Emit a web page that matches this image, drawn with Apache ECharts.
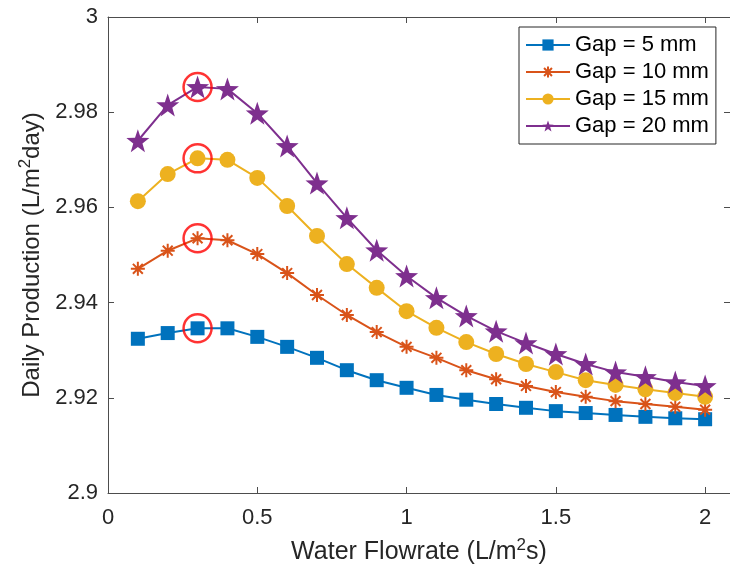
<!DOCTYPE html>
<html>
<head>
<meta charset="utf-8">
<script src="https://cdn.jsdelivr.net/npm/echarts@6/dist/echarts.min.js"></script>
<style>
  html, body { margin: 0; padding: 0; background: #fff; }
  #main { width: 730px; height: 575px; }
</style>
</head>
<body>
<div id="main"></div>
<script>
var flow = [0.1, 0.2, 0.3, 0.4, 0.5, 0.6, 0.7, 0.8, 0.9, 1.0,
            1.1, 1.2, 1.3, 1.4, 1.5, 1.6, 1.7, 1.8, 1.9, 2.0];
var gap5  = [2.9324, 2.9336, 2.9346, 2.9346, 2.9328, 2.9307, 2.9284, 2.9258, 2.9237, 2.9221,
             2.9206, 2.9196, 2.9187, 2.9179, 2.9172, 2.9168, 2.9164, 2.9160, 2.9157, 2.9155];
var gap10 = [2.9471, 2.9509, 2.9535, 2.9531, 2.9502, 2.9462, 2.9416, 2.9374, 2.9338, 2.9307,
             2.9284, 2.9258, 2.9239, 2.9225, 2.9212, 2.9202, 2.9193, 2.9187, 2.9181, 2.9175];
var gap15 = [2.9613, 2.9670, 2.9703, 2.9700, 2.9662, 2.9603, 2.9540, 2.9481, 2.9431, 2.9382,
             2.9347, 2.9317, 2.9292, 2.9271, 2.9254, 2.9237, 2.9227, 2.9218, 2.9210, 2.9202];
var gap20 = [2.9740, 2.9815, 2.9853, 2.9849, 2.9798, 2.9729, 2.9651, 2.9578, 2.9510, 2.9456,
             2.9410, 2.9372, 2.9340, 2.9315, 2.9292, 2.9271, 2.9254, 2.9244, 2.9233, 2.9225];
var names = ['Gap = 5 mm', 'Gap = 10 mm', 'Gap = 15 mm', 'Gap = 20 mm'];
var peakIndex = 2; // x = 0.3 is circled on every curve

var colors = ['#0072BD', '#D95319', '#EDB120', '#7E2F8E'];
var asterisk = 'path://M0,-10L0,10M-10,0L10,0M-7.07,-7.07L7.07,7.07M-7.07,7.07L7.07,-7.07';
var star = 'path://M0,-10L2.35,-3.24L9.51,-3.09L3.80,1.24L5.88,8.09L0,4L-5.88,8.09L-3.80,1.24L-9.51,-3.09L-2.35,-3.24Z';

function pairs(ys) {
    return flow.map(function (x, i) { return [x, ys[i]]; });
}

var allSeries = [gap5, gap10, gap15, gap20];
var symbols = ['rect', asterisk, 'circle', star];
var sizes = [14, 14, 16, 23];

var series = allSeries.map(function (ys, k) {
    return {
        name: names[k],
        type: 'line',
        data: pairs(ys),
        symbol: symbols[k],
        symbolSize: sizes[k],
        showAllSymbol: true,
        lineStyle: { color: colors[k], width: 2 },
        itemStyle: {
            color: colors[k],
            borderColor: colors[k],
            borderWidth: k === 1 ? 2 : 0
        },
        emphasis: { disabled: true },
        z: 2 + k
    };
});

series.push({
    name: 'peak',
    type: 'scatter',
    data: allSeries.map(function (ys) { return [flow[peakIndex], ys[peakIndex]]; }),
    symbol: 'circle',
    symbolSize: 28,
    itemStyle: { color: 'rgba(0,0,0,0)', borderColor: '#FF0000', borderWidth: 2.5 },
    emphasis: { disabled: true },
    z: 10
});

var axisColor = '#4d4d4d';
var textColor = '#262626';
var font = 'Liberation Sans, Arial, sans-serif';

var chart = echarts.init(document.getElementById('main'));
chart.setOption({
    animation: false,
    textStyle: { fontFamily: font },
    grid: { left: 108, top: 17, right: 0, bottom: 82 },
    legend: {
        data: names,
        orient: 'vertical',
        left: 519,
        top: 27,
        itemWidth: 44,
        itemHeight: 14,
        itemGap: 5,
        padding: [7, 7, 7, 6],
        backgroundColor: '#fff',
        borderColor: '#262626',
        borderWidth: 1,
        textStyle: { fontSize: 22, color: '#000', fontFamily: font }
    },
    xAxis: [{
        type: 'value',
        min: 0, max: 2.0833, interval: 0.5,
        name: 'Water Flowrate (L/m{sup|2}s)',
        nameLocation: 'middle',
        nameGap: 44,
        nameTextStyle: {
            fontSize: 25, color: textColor, fontFamily: font,
            rich: { sup: { fontSize: 17, padding: [0, 0, 14, 0], color: textColor, fontFamily: font } }
        },
        axisLine: { show: true, lineStyle: { color: axisColor, width: 1 } },
        axisTick: { show: true, inside: true, length: 6, lineStyle: { color: axisColor } },
        axisLabel: { fontSize: 22, color: textColor, margin: 14, showMaxLabel: false },
        splitLine: { show: false }
    }, {
        type: 'value',
        position: 'top',
        min: 0, max: 2.0833, interval: 0.5,
        axisLine: { show: true, onZero: false, lineStyle: { color: axisColor, width: 1 } },
        axisTick: { show: true, inside: true, length: 6, lineStyle: { color: axisColor } },
        axisLabel: { show: false },
        splitLine: { show: false }
    }],
    yAxis: [{
        type: 'value',
        min: 2.9, max: 3, interval: 0.02,
        name: 'Daily Production (L/m{sup|2}day)',
        nameLocation: 'middle',
        nameGap: 56,
        nameTextStyle: {
            fontSize: 24, color: textColor, fontFamily: font,
            rich: { sup: { fontSize: 17, padding: [0, 0, 14, 0], color: textColor, fontFamily: font } }
        },
        axisLine: { show: true, lineStyle: { color: axisColor, width: 1 } },
        axisTick: { show: true, inside: true, length: 6, lineStyle: { color: axisColor } },
        axisLabel: { fontSize: 22, color: textColor, margin: 10 },
        splitLine: { show: false }
    }, {
        type: 'value',
        position: 'right',
        min: 2.9, max: 3, interval: 0.02,
        axisLine: { show: false, onZero: false },
        axisTick: { show: true, inside: true, length: 6, lineStyle: { color: axisColor } },
        axisLabel: { show: false },
        splitLine: { show: false }
    }],
    series: series
});
</script>
</body>
</html>
